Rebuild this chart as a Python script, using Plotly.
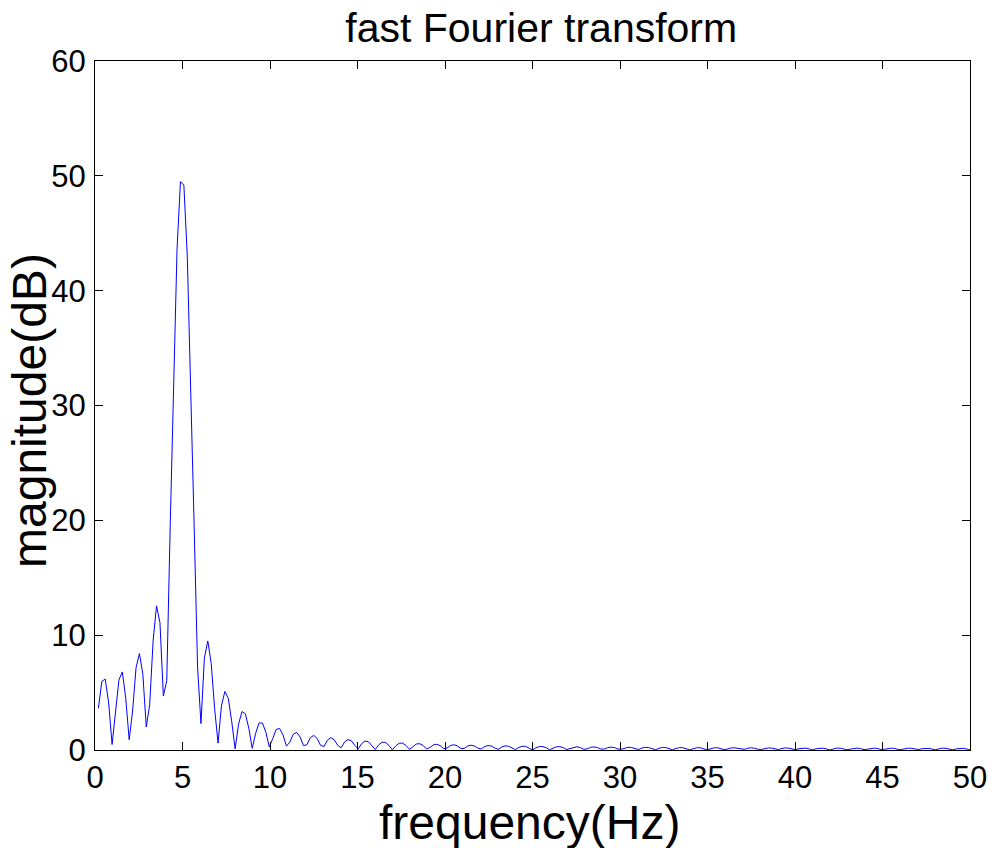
import plotly.graph_objects as go

# FFT settings (frequency grid of the spectrum)
sample_rate = 100.0
n_fft = 512
freq_step = sample_rate / n_fft  # Hz between bins; first plotted bin is at one step

# magnitude, bins 1..256 (0.195 Hz .. 50 Hz)
magnitude = [
    3.63, 5.98, 6.17, 4.10, 0.48, 3.20, 6.10, 6.80, 4.50, 0.90,
    3.40, 7.15, 8.40, 6.60, 2.00, 3.95, 9.50, 12.55, 11.10, 4.70,
    6.05, 19.50, 32.90, 43.60, 49.50, 49.20, 43.00, 32.30, 19.60, 7.30,
    2.30, 8.00, 9.50, 7.55, 3.60, 0.60, 3.85, 5.10, 4.50, 2.48,
    0.10, 2.25, 3.35, 3.15, 1.90, 0.14, 1.45, 2.35, 2.35, 1.53,
    0.27, 0.99, 1.79, 1.88, 1.32, 0.34, 0.68, 1.37, 1.53, 1.14,
    0.38, 0.46, 1.08, 1.27, 1.01, 0.40, 0.30, 0.86, 1.07, 0.89,
    0.41, 0.19, 0.69, 0.91, 0.80, 0.41, 0.10, 0.55, 0.78, 0.72,
    0.41, 0.04, 0.45, 0.68, 0.66, 0.40, 0.02, 0.36, 0.59, 0.60,
    0.39, 0.06, 0.28, 0.52, 0.55, 0.39, 0.09, 0.22, 0.44, 0.50,
    0.37, 0.12, 0.17, 0.39, 0.46, 0.36, 0.14, 0.13, 0.34, 0.42,
    0.35, 0.16, 0.09, 0.30, 0.39, 0.34, 0.17, 0.06, 0.26, 0.36,
    0.33, 0.18, 0.03, 0.22, 0.33, 0.32, 0.19, 0.00, 0.19, 0.30,
    0.30, 0.20, 0.02, 0.16, 0.28, 0.29, 0.20, 0.04, 0.13, 0.25,
    0.28, 0.21, 0.06, 0.10, 0.23, 0.27, 0.21, 0.08, 0.08, 0.20,
    0.25, 0.21, 0.09, 0.06, 0.18, 0.24, 0.21, 0.10, 0.04, 0.17,
    0.23, 0.21, 0.11, 0.02, 0.15, 0.22, 0.21, 0.12, 0.01, 0.13,
    0.21, 0.20, 0.13, 0.01, 0.11, 0.19, 0.20, 0.14, 0.02, 0.09,
    0.18, 0.20, 0.14, 0.04, 0.08, 0.17, 0.19, 0.15, 0.05, 0.06,
    0.15, 0.19, 0.15, 0.06, 0.05, 0.14, 0.18, 0.16, 0.07, 0.04,
    0.13, 0.18, 0.16, 0.08, 0.02, 0.12, 0.17, 0.16, 0.09, 0.01,
    0.11, 0.16, 0.16, 0.10, 0.00, 0.09, 0.16, 0.16, 0.11, 0.02,
    0.08, 0.15, 0.16, 0.12, 0.03, 0.07, 0.14, 0.16, 0.12, 0.04,
    0.06, 0.13, 0.16, 0.13, 0.05, 0.05, 0.13, 0.16, 0.14, 0.06,
    0.04, 0.12, 0.16, 0.14, 0.07, 0.02, 0.11, 0.16, 0.14, 0.08,
    0.01, 0.10, 0.15, 0.15, 0.09, 0.00,
]

x_ticks = [0, 5, 10, 15, 20, 25, 30, 35, 40, 45, 50]
y_ticks = [0, 10, 20, 30, 40, 50, 60]

title_text = "fast Fourier transform"
x_label = "frequency(Hz)"
y_label = "magnitude(dB)"

FONT = "Liberation Sans, Arial, Helvetica, sans-serif"

fig = go.Figure()
fig.add_trace(go.Scatter(
    y=magnitude, x0=freq_step, dx=freq_step,
    mode="lines", line=dict(color="#0000ff", width=1),
    hoverinfo="skip",
))

axis_common = dict(
    showline=True, linecolor="black", linewidth=1, mirror="allticks",
    ticks="inside", ticklen=8, tickwidth=1, tickcolor="black",
    showgrid=False, zeroline=False,
    tickfont=dict(family=FONT, size=31, color="black"),
)

fig.update_xaxes(range=[0, 50], tickvals=x_ticks, ticktext=[str(v) for v in x_ticks], **axis_common)
fig.update_yaxes(range=[0, 60], tickvals=y_ticks, ticktext=[str(v) for v in y_ticks],
                 ticklabelstandoff=2, **axis_common)

fig.update_layout(
    width=1000, height=848,
    margin=dict(l=95, r=30, t=61, b=98),
    plot_bgcolor="white", paper_bgcolor="white",
    showlegend=False,
    font=dict(family=FONT, color="black"),
    title=dict(text=title_text, x=0.510, xanchor="center", xref="paper",
               y=1 - 28 / 848, yanchor="middle", yref="container",
               font=dict(family=FONT, size=41, color="black")),
    annotations=[
        dict(text=x_label, xref="paper", yref="paper", x=0.496, y=-0.1045,
             xanchor="center", yanchor="middle", showarrow=False,
             font=dict(family=FONT, size=48, color="black")),
        dict(text=y_label, xref="paper", yref="paper", x=-0.0743, y=0.4935,
             xanchor="center", yanchor="middle", showarrow=False, textangle=-90,
             font=dict(family=FONT, size=48, color="black")),
    ],
)

fig.write_html("out.html")
